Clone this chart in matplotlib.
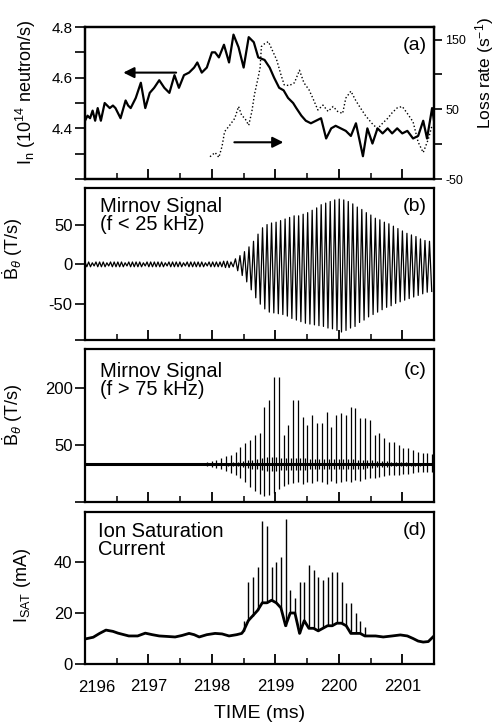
import numpy as np
import matplotlib
matplotlib.use('Agg')
import matplotlib.pyplot as plt
from matplotlib.ticker import FixedLocator, MultipleLocator

plt.rcParams['font.family'] = ['Liberation Sans', 'DejaVu Sans']
plt.rcParams['mathtext.fontset'] = 'custom'
plt.rcParams['mathtext.rm'] = 'Liberation Sans'
plt.rcParams['mathtext.it'] = 'Liberation Sans:italic'
plt.rcParams['mathtext.bf'] = 'Liberation Sans:bold'
plt.rcParams['axes.unicode_minus'] = False

# ---------------- data ----------------
time_ticks = [2196, 2197, 2198, 2199, 2200, 2201]
time_labels = ['', '2197', '2198', '2199', '2200', '2201']
first_label = '2196'
time_range = (2196.0, 2201.5)

# (a) neutron rate (left axis) and loss rate (right axis)
neutron_t = [2196.00, 2196.04, 2196.08, 2196.12, 2196.16, 2196.20, 2196.25, 2196.31, 2196.35,
             2196.39, 2196.44, 2196.48, 2196.52, 2196.56,
             2196.64, 2196.68, 2196.72, 2196.80, 2196.84, 2196.88, 2196.95, 2197.02, 2197.09, 2197.17,
             2197.25, 2197.33, 2197.41, 2197.48, 2197.56, 2197.64, 2197.72, 2197.77,
             2197.84, 2197.92, 2198.00, 2198.05, 2198.11, 2198.19, 2198.27, 2198.34,
             2198.42, 2198.50, 2198.58, 2198.66, 2198.73, 2198.83, 2198.91, 2198.98,
             2199.06, 2199.13, 2199.20, 2199.28, 2199.33, 2199.41, 2199.48, 2199.56,
             2199.64, 2199.72, 2199.80, 2199.88, 2199.95, 2200.03, 2200.11, 2200.19,
             2200.27, 2200.38, 2200.45, 2200.53, 2200.61, 2200.69, 2200.77, 2200.84,
             2200.92, 2201.00, 2201.08, 2201.17, 2201.25, 2201.33, 2201.39, 2201.47, 2201.50]
neutron_v = [4.43, 4.45, 4.44, 4.47, 4.43, 4.48, 4.43, 4.50, 4.49,
             4.48, 4.49, 4.48, 4.46, 4.44,
             4.51, 4.49, 4.48, 4.52, 4.55, 4.58, 4.48, 4.54, 4.56, 4.59,
             4.56, 4.54, 4.61, 4.56, 4.61, 4.62, 4.64, 4.66,
             4.62, 4.64, 4.70, 4.70, 4.68, 4.73, 4.66, 4.77,
             4.72, 4.64, 4.76, 4.74, 4.68, 4.67, 4.64, 4.60,
             4.56, 4.55, 4.52, 4.50, 4.48, 4.45, 4.43, 4.42,
             4.43, 4.44, 4.36, 4.40, 4.41, 4.40, 4.39, 4.37,
             4.42, 4.29, 4.40, 4.34, 4.40, 4.38, 4.40, 4.38,
             4.40, 4.38, 4.39, 4.36, 4.37, 4.43, 4.36, 4.48, 4.43]

loss_t = [2197.97, 2198.05, 2198.11, 2198.16, 2198.20, 2198.28, 2198.36, 2198.42, 2198.47,
          2198.52, 2198.58, 2198.63, 2198.67, 2198.73, 2198.76, 2198.78, 2198.83, 2198.89,
          2198.94, 2199.02, 2199.09, 2199.14, 2199.22, 2199.30, 2199.38, 2199.45, 2199.53,
          2199.59, 2199.67, 2199.75, 2199.83, 2199.91, 2199.98, 2200.06, 2200.11, 2200.19,
          2200.27, 2200.34, 2200.42, 2200.52, 2200.61, 2200.69, 2200.77, 2200.84, 2200.92,
          2201.00, 2201.08, 2201.17, 2201.25, 2201.33, 2201.41, 2201.47]
loss_v = [-18, -12, -19, -3, 18, 27, 37, 54, 41,
          37, 27, 47, 71, 96, 110, 140, 144, 147,
          137, 121, 99, 85, 84, 88, 106, 88, 78,
          66, 49, 56, 47, 54, 47, 44, 66, 76,
          62, 52, 41, 30, 22, 30, 37, 45, 52,
          54, 44, 32, 3, -12, 7, 27]

# (b) low-frequency Mirnov signal: per-cycle extremes
b_pre_start, b_burst_start, b_end = 2196.0, 2198.3, 2201.5
b_pre_amp = [3, 3, 2, 3, 3, 3, 2, 3, 3, 3, 3, 2, 3, 3, 3, 3, 2, 3, 3, 3,
             3, 3, 2, 3, 3, 3, 3, 2, 3, 3, 3, 3, 3, 2, 3, 3, 3, 3, 4, 4]
b_peak = [3, 7, 11, 16, 22, 29, 38, 46, 50, 52, 53, 55, 57, 59, 61, 61, 63, 65, 68, 71,
          75, 77, 79, 81, 82, 81, 79, 76, 72, 69, 65, 62, 58, 56, 53, 51, 48, 45, 42, 39,
          37, 35, 32, 30, 29]
b_trough = [-3, -8, -14, -22, -32, -42, -50, -56, -60, -61, -62, -63, -65, -68, -70, -72,
            -74, -75, -76, -77, -78, -80, -81, -83, -85, -83, -80, -78, -73, -70, -66, -63,
            -60, -57, -54, -52, -49, -47, -45, -43, -41, -39, -37, -35, -34]

# (c) high-frequency Mirnov signal: per-cycle spike extremes
c_start, c_end = 2197.92, 2201.47
c_baseline = 0
c_top = [5, 8, 12, 17, 20, 25, 32, 45, 55, 63, 76, 82, 150, 168, 229, 229, 76, 103, 168, 168,
         124, 103, 129, 108, 108, 137, 97, 129, 134, 129, 150, 147, 121, 121, 116, 76, 82, 68,
         58, 58, 50, 42, 42, 37, 32, 29, 29, 26]
c_bot = [-5, -7, -10, -14, -18, -24, -30, -38, -48, -60, -72, -80, -84, -82, -76, -65, -58,
         -52, -50, -48, -52, -46, -50, -44, -48, -52, -45, -50, -46, -44, -48, -42, -44, -40,
         -38, -36, -34, -32, -30, -30, -28, -26, -25, -24, -22, -22, -20, -20]
c_band = [2, 2, 3, 3, 4, 5, 6, 8, 10, 12, 14, 16, 18, 18, 18, 16, 16, 15, 15, 15,
          15, 14, 14, 14, 14, 14, 14, 14, 13, 13, 13, 12, 12, 11, 10, 9, 8, 7, 6, 6,
          5, 5, 4, 4, 4, 3, 3, 3]

# (d) ion saturation current
d_pre_t = [2196.00, 2196.13, 2196.23, 2196.33, 2196.44, 2196.52, 2196.69, 2196.83, 2196.95,
           2197.06, 2197.17, 2197.30, 2197.42, 2197.53, 2197.64, 2197.72, 2197.80, 2197.92,
           2198.05, 2198.16, 2198.27, 2198.39, 2198.47]
d_pre_v = [9.8, 10.5, 12.0, 13.3, 12.8, 12.1, 11.0, 11.0, 12.1,
           11.5, 11.0, 10.8, 10.6, 11.2, 12.0, 11.5, 10.6, 11.5,
           12.0, 11.8, 11.0, 11.5, 12.0]
d_burst_start, d_burst_end = 2198.5, 2200.41
d_base = [13, 17, 19, 21, 24, 24, 25, 24, 22, 15, 20, 20, 12, 17, 14, 14, 13, 14, 15, 15,
          16, 16, 15, 12, 12, 12, 11]
d_top = [17, 32, 34, 38, 56, 54, 38, 40, 42, 57, 29, 26, 32, 32, 39, 37, 34, 33, 34, 36,
         36, 32, 24, 24, 20, 17, 14.5]
d_post_t = [2200.47, 2200.58, 2200.70, 2200.84, 2200.97, 2201.08, 2201.17, 2201.25,
            2201.33, 2201.41, 2201.50]
d_post_v = [11.0, 11.0, 10.6, 11.0, 11.4, 11.0, 10.0, 9.0, 8.6, 8.8, 11.0]

# ---------------- figure ----------------
fig = plt.figure(figsize=(5.0, 7.28), dpi=100)
L, W = 0.17, 0.698
ax_a = fig.add_axes([L, 0.7541, W, 0.2088])
ax_b = fig.add_axes([L, 0.5330, W, 0.2088])
ax_c = fig.add_axes([L, 0.3104, W, 0.2102])
ax_d = fig.add_axes([L, 0.0879, W, 0.2088])
axes = [ax_a, ax_b, ax_c, ax_d]

for ax in axes:
    ax.set_xlim(*time_range)
    ax.xaxis.set_major_locator(FixedLocator(time_ticks))
    ax.xaxis.set_minor_locator(MultipleLocator(0.5))
    ax.tick_params(axis='x', which='major', direction='in', length=7, width=1.3,
                   top=False, labelsize=12, pad=11)
    ax.tick_params(axis='x', which='minor', direction='in', length=4, width=1.1, top=False)
    ax.tick_params(axis='y', which='major', direction='out', length=7, width=1.2,
                   labelsize=12, pad=2)
    ax.tick_params(axis='y', which='minor', direction='out', length=7, width=1.2)
    for s in ax.spines.values():
        s.set_linewidth(1.6)
    if ax is not ax_d:
        ax.tick_params(axis='x', labelbottom=False)

# (a)
ax_a.plot(neutron_t, neutron_v, color='black', lw=1.6)
ax_a.set_ylim(4.2, 4.8)
ax_a.yaxis.set_major_locator(FixedLocator([4.4, 4.6, 4.8]))
ax_a.yaxis.set_minor_locator(FixedLocator([4.2, 4.3, 4.5, 4.7]))
ax_a.tick_params(axis='y', labelsize=11)
ax_a.set_ylabel(r'I$_{\rm n}$ (10$^{14}$ neutron/s)', fontsize=13)
ax_a.yaxis.set_label_coords(-0.135, 0.57)
ax_a.annotate('', xy=(2196.56, 4.62), xytext=(2197.48, 4.62),
              arrowprops=dict(arrowstyle='-|>', color='black', lw=1.5, mutation_scale=16))
ax_a.annotate('', xy=(2199.17, 4.345), xytext=(2198.31, 4.345),
              arrowprops=dict(arrowstyle='-|>', color='black', lw=1.5, mutation_scale=16))
ax_a.text(0.98, 0.934, '(a)', transform=ax_a.transAxes, ha='right', va='top', fontsize=14)

ax_r = ax_a.twinx()
ax_r.plot(loss_t, loss_v, color='black', lw=1.0, linestyle=(0, (1, 1.6)))
ax_r.set_ylim(-50, 168)
ax_r.yaxis.set_major_locator(FixedLocator([-50, 50, 150]))
ax_r.yaxis.set_minor_locator(FixedLocator([0, 100]))
ax_r.tick_params(axis='y', which='both', direction='out', length=6, width=1.2, labelsize=9, pad=2)
ax_r.set_ylabel(r'Loss rate (s$^{-1}$)', fontsize=12.5, rotation=90)
ax_r.yaxis.set_label_coords(1.112, 0.70)
for s in ax_r.spines.values():
    s.set_linewidth(1.6)

# (b)
tb, vb = [], []
P1 = (b_burst_start - b_pre_start) / len(b_pre_amp)
for k, a in enumerate(b_pre_amp):
    t0 = b_pre_start + k * P1
    tb += [t0, t0 + P1 / 2]
    vb += [a, -a]
P2 = (b_end - b_burst_start) / len(b_peak)
for k, (p, q) in enumerate(zip(b_peak, b_trough)):
    t0 = b_burst_start + k * P2
    tb += [t0, t0 + P2 / 2]
    vb += [p, q]
ax_b.plot(tb, vb, color='black', lw=0.9)
ax_b.set_ylim(-95, 96)
ax_b.yaxis.set_major_locator(FixedLocator([-50, 0, 50]))
ax_b.yaxis.set_minor_locator(FixedLocator([-95]))
ax_b.set_ylabel(r'$\dot{\rm B}_\theta$ (T/s)', fontsize=13)
ax_b.yaxis.set_label_coords(-0.172, 0.60)
ax_b.text(0.043, 0.94, 'Mirnov Signal\n(f < 25 kHz)', transform=ax_b.transAxes,
          ha='left', va='top', fontsize=14.5, linespacing=0.9)
ax_b.text(0.98, 0.934, '(b)', transform=ax_b.transAxes, ha='right', va='top', fontsize=14)

# (c)
nc = len(c_top)
Pc = (c_end - c_start) / (nc - 1)
tc = [c_start + k * Pc for k in range(nc)]
ax_c.plot(time_range, [c_baseline, c_baseline], color='black', lw=2.2)
ax_c.vlines(tc, c_bot, c_top, color='black', lw=0.9)
tc_mid = [t + Pc / 2 for t in tc]
ax_c.vlines(tc_mid, [-b for b in c_band], c_band, color='black', lw=0.9)
ax_c.set_ylim(-100, 303)
ax_c.yaxis.set_major_locator(FixedLocator([50, 200]))
ax_c.yaxis.set_minor_locator(FixedLocator([-100]))
ax_c.set_ylabel(r'$\dot{\rm B}_\theta$ (T/s)', fontsize=13)
ax_c.yaxis.set_label_coords(-0.172, 0.57)
ax_c.text(0.043, 0.915, 'Mirnov Signal\n(f > 75 kHz)', transform=ax_c.transAxes,
          ha='left', va='top', fontsize=14.5, linespacing=0.9)
ax_c.text(0.98, 0.915, '(c)', transform=ax_c.transAxes, ha='right', va='top', fontsize=14)

# (d)
nd = len(d_top)
Pd = (d_burst_end - d_burst_start) / (nd - 1)
td = [d_burst_start + k * Pd for k in range(nd)]
ax_d.plot(list(d_pre_t) + td + list(d_post_t), list(d_pre_v) + d_base + list(d_post_v),
          color='black', lw=2.0)
ax_d.vlines(td, d_base, d_top, color='black', lw=1.0)
ax_d.set_ylim(0, 59.6)
ax_d.yaxis.set_major_locator(FixedLocator([0, 20, 40]))
ax_d.set_ylabel(r'I$_{\rm SAT}$ (mA)', fontsize=13)
ax_d.yaxis.set_label_coords(-0.149, 0.52)
ax_d.text(0.037, 0.934, 'Ion Saturation\nCurrent', transform=ax_d.transAxes,
          ha='left', va='top', fontsize=14.5, linespacing=0.9)
ax_d.text(0.98, 0.934, '(d)', transform=ax_d.transAxes, ha='right', va='top', fontsize=14)
ax_d.set_xticklabels(time_labels)
# the first tick label sits slightly right of its tick in the reference
ax_d.text(0.034, -0.105, first_label, transform=ax_d.transAxes, ha='center', va='top',
          fontsize=12)
ax_d.set_xlabel('TIME (ms)', fontsize=14, labelpad=8)

fig.savefig('out.png', dpi=100)
